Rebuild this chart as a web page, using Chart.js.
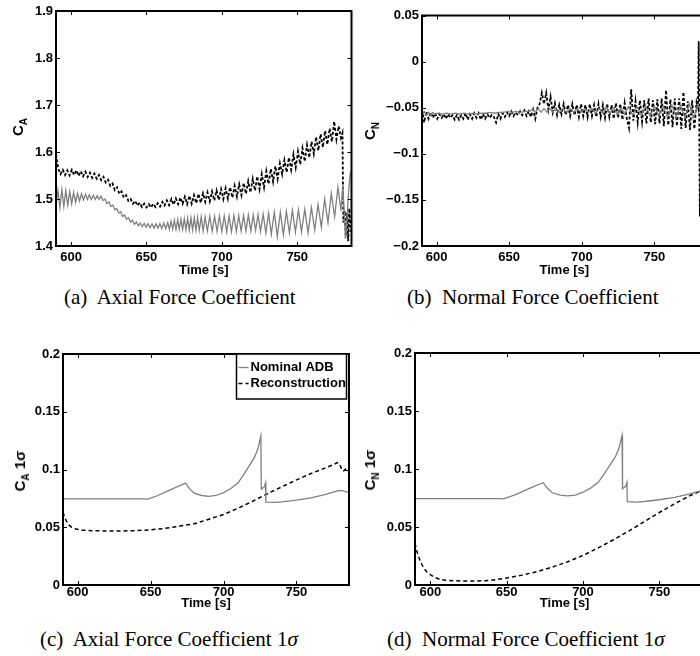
<!DOCTYPE html>
<html>
<head>
<meta charset="utf-8">
<script src="https://cdn.jsdelivr.net/npm/chart.js@4.4.1/dist/chart.umd.min.js"></script>
<style>
  html, body { margin: 0; padding: 0; background: #fff; }
  body { width: 700px; height: 656px; overflow: hidden; position: relative; }
  canvas { position: absolute; }
  .cap { position: absolute; font-family: "Liberation Serif", "Times New Roman", serif; font-size: 21px; line-height: 24px; white-space: nowrap; color: #000; }
  .ylab { position: absolute; font-family: "Liberation Sans", Arial, sans-serif; font-weight: bold; font-size: 15px; white-space: nowrap; transform: translate(-50%, -50%) rotate(-90deg); }
  .ylab sub { font-size: 10px; }
</style>
</head>
<body>
<canvas id="chartA" width="354" height="282" style="left:0;top:0"></canvas>
<canvas id="chartB" width="380" height="282" style="left:354px;top:0"></canvas>
<canvas id="chartC" width="354" height="282" style="left:0;top:330px"></canvas>
<canvas id="chartD" width="380" height="282" style="left:354px;top:330px"></canvas>

<div class="ylab" style="left:19px;top:127px">C<sub>A</sub></div>
<div class="ylab" style="left:371px;top:131px">C<sub>N</sub></div>
<div class="ylab" style="left:21px;top:471px">C<sub>A</sub> 1σ</div>
<div class="ylab" style="left:371px;top:470px">C<sub>N</sub> 1σ</div>

<div class="cap" style="left:64px;top:285px">(a)&nbsp; Axial Force Coefficient</div>
<div class="cap" style="left:407px;top:285px">(b)&nbsp; Normal Force Coefficient</div>
<div class="cap" style="left:40px;top:627px">(c)&nbsp; Axial Force Coefficient 1<i>σ</i></div>
<div class="cap" style="left:387px;top:627px">(d)&nbsp; Normal Force Coefficient 1<i>σ</i></div>

<script>
// ---- data ----
const timeTicks = [600, 650, 700, 750];

const yTicksCA = [1.4, 1.5, 1.6, 1.7, 1.8, 1.9];
const yLabelsCA = ['1.4', '1.5', '1.6', '1.7', '1.8', '1.9'];
const yTicksCN = [-0.2, -0.15, -0.1, -0.05, 0, 0.05];
const yLabelsCN = ['\u22120.2', '\u22120.15', '\u22120.1', '\u22120.05', '0', '0.05'];
const yTicksSig = [0, 0.05, 0.1, 0.15, 0.2];
const yLabelsSig = ['0', '0.05', '0.1', '0.15', '0.2'];

// shared time base of the noisy reconstruction traces
const tNoise = [
  590, 591.5, 593, 594.5, 596, 597.5, 599, 600.5, 602, 603.5,
  605, 606.5, 608, 609.5, 611, 612.5, 614, 615.5, 617, 618.5,
  620, 621.5, 623, 624.5, 626, 627.5, 629, 630.5, 632, 633.5,
  635, 636.5, 638, 639.5, 641, 642.5, 644, 645.5, 647, 648.5,
  650, 651.5, 653, 654.5, 656, 657.5, 659, 660.5, 662, 663.5,
  665, 666.5, 668, 669.5, 671, 672.5, 674, 675.5, 677, 678.5,
  680, 681.5, 683, 684.5, 686, 687.5, 689, 690.5, 692, 693.5,
  695, 696.5, 698, 699.5, 701, 702.5, 704, 705.5, 707, 708.5,
  710, 711.5, 713, 714.5, 716, 717.5, 719, 720.5, 722, 723.5,
  725, 726.5, 728, 729.5, 731, 732.5, 734, 735.5, 737, 738.5,
  740, 741.5, 743, 744.5, 746, 747.5, 749, 750.5, 752, 753.5,
  755, 756.5, 758, 759.5, 761, 762.5, 764, 765.5, 767, 768.5,
  770, 771.5, 773, 774.5, 776, 777.5, 779
];

// (a) axial force coefficient, reconstruction
const reconCA = [
  1.595, 1.565, 1.553, 1.562, 1.551, 1.561, 1.550, 1.562, 1.551, 1.561,
  1.549, 1.559, 1.548, 1.558, 1.547, 1.556, 1.545, 1.554, 1.543, 1.551,
  1.540, 1.547, 1.535, 1.541, 1.528, 1.533, 1.519, 1.525, 1.511, 1.516,
  1.503, 1.508, 1.496, 1.500, 1.490, 1.496, 1.486, 1.492, 1.483, 1.490,
  1.482, 1.489, 1.482, 1.490, 1.483, 1.491, 1.484, 1.494, 1.486, 1.497,
  1.487, 1.500, 1.488, 1.501, 1.489, 1.503, 1.490, 1.505, 1.489, 1.507,
  1.490, 1.508, 1.491, 1.511, 1.492, 1.512, 1.494, 1.514, 1.495, 1.516,
  1.497, 1.518, 1.498, 1.521, 1.500, 1.523, 1.501, 1.525, 1.503, 1.528,
  1.505, 1.531, 1.508, 1.534, 1.511, 1.538, 1.514, 1.543, 1.518, 1.548,
  1.521, 1.553, 1.525, 1.559, 1.532, 1.564, 1.537, 1.570, 1.543, 1.576,
  1.553, 1.583, 1.557, 1.588, 1.562, 1.595, 1.567, 1.601, 1.574, 1.608,
  1.580, 1.615, 1.588, 1.622, 1.596, 1.632, 1.603, 1.638, 1.610, 1.645,
  1.616, 1.650, 1.622, 1.665, 1.627, 1.655, 1.630
];
const reconCAEndT = [780, 780.6, 781.5, 782.2, 783, 783.8, 784.5, 785.5];
const reconCAEnd = [1.640, 1.450, 1.475, 1.420, 1.470, 1.410, 1.480, 1.430];

// (a) axial force coefficient, nominal ADB
const nominalCAT = [
  590, 591.3, 592.6, 593.9, 595.2, 596.5, 597.8, 599.1, 600.4, 601.7,
  603.0, 604.3, 605.6, 606.9, 608.2, 609.5, 610.8, 612.1, 613.4, 614.7,
  616.0, 617.3, 618.6, 619.9, 621.2, 622.5, 623.8, 625.1, 626.4, 627.7,
  629.0, 630.3, 631.6, 632.9, 634.2, 635.5, 636.8, 638.1, 639.4, 640.7,
  642.0, 643.3, 644.6, 645.9, 647.2, 648.5, 649.8, 651.1, 652.4, 653.7,
  655.0, 656.3, 657.6, 658.9, 660.2, 661.5, 662.8, 664.1, 665.2, 666.3,
  667.4, 668.5, 669.6, 670.7, 671.8, 672.9, 674.0, 675.1, 676.2, 677.3,
  678.4, 679.5, 680.6, 681.7, 682.8, 683.9, 685.0, 686.3, 687.6, 688.9,
  690.4, 692.0, 693.6, 695.2, 696.8, 698.4, 700.0, 701.6, 703.2, 704.8,
  706.4, 708.0, 709.6, 711.2, 712.8, 714.4, 716.0, 717.6, 719.2, 720.8,
  722.4, 724.0, 725.6, 727.4, 729.2, 731.0, 732.8, 734.8, 736.8, 738.8,
  740.8, 742.8, 744.8, 746.8, 748.8, 750.8, 752.8, 755.0, 757.2, 759.4,
  761.6, 763.8, 766.0, 768.2, 770.4, 772.6, 774.8, 777.0, 779.0, 780.2,
  781.2, 782.0, 783.2, 784.2, 785.2, 786
];
const nominalCA = [
  1.485, 1.518, 1.482, 1.520, 1.484, 1.518, 1.487, 1.516, 1.490, 1.514,
  1.493, 1.512, 1.496, 1.511, 1.498, 1.510, 1.499, 1.509, 1.499, 1.508,
  1.499, 1.507, 1.499, 1.506, 1.497, 1.500, 1.490, 1.494, 1.484, 1.487,
  1.477, 1.480, 1.470, 1.473, 1.463, 1.466, 1.457, 1.460, 1.451, 1.455,
  1.446, 1.451, 1.443, 1.449, 1.441, 1.448, 1.440, 1.447, 1.439, 1.447,
  1.438, 1.447, 1.438, 1.448, 1.437, 1.449, 1.437, 1.450, 1.436, 1.453,
  1.436, 1.455, 1.435, 1.456, 1.435, 1.457, 1.435, 1.458, 1.434, 1.459,
  1.434, 1.460, 1.434, 1.460, 1.433, 1.461, 1.433, 1.462, 1.432, 1.462,
  1.432, 1.463, 1.431, 1.463, 1.431, 1.464, 1.431, 1.464, 1.430, 1.464,
  1.431, 1.465, 1.431, 1.465, 1.432, 1.465, 1.432, 1.466, 1.432, 1.466,
  1.433, 1.467, 1.431, 1.468, 1.428, 1.470, 1.425, 1.472, 1.420, 1.472,
  1.424, 1.474, 1.428, 1.476, 1.430, 1.477, 1.430, 1.478, 1.428, 1.482,
  1.434, 1.488, 1.440, 1.500, 1.450, 1.512, 1.462, 1.525, 1.475, 1.532,
  1.470, 1.415, 1.470, 1.520, 1.555, 1.560
];

// (b) normal force coefficient, reconstruction
const reconCN = [
  -0.052, -0.066, -0.054, -0.062, -0.055, -0.061, -0.056, -0.062, -0.057, -0.061,
  -0.057, -0.062, -0.057, -0.061, -0.058, -0.063, -0.058, -0.063, -0.058, -0.062,
  -0.056, -0.063, -0.057, -0.062, -0.056, -0.061, -0.056, -0.063, -0.057, -0.062,
  -0.057, -0.061, -0.058, -0.060, -0.066, -0.057, -0.062, -0.056, -0.060, -0.055,
  -0.059, -0.054, -0.059, -0.055, -0.058, -0.054, -0.058, -0.053, -0.059, -0.054,
  -0.060, -0.052, -0.062, -0.050, -0.046, -0.034, -0.046, -0.034, -0.052, -0.038,
  -0.055, -0.045, -0.058, -0.047, -0.057, -0.046, -0.058, -0.047, -0.059, -0.046,
  -0.058, -0.047, -0.060, -0.046, -0.059, -0.047, -0.060, -0.046, -0.059, -0.047,
  -0.060, -0.046, -0.060, -0.047, -0.061, -0.046, -0.060, -0.047, -0.062, -0.045,
  -0.061, -0.046, -0.063, -0.045, -0.062, -0.072, -0.030, -0.064, -0.043, -0.066,
  -0.042, -0.065, -0.042, -0.067, -0.040, -0.066, -0.042, -0.068, -0.041, -0.067,
  -0.040, -0.070, -0.031, -0.069, -0.041, -0.071, -0.040, -0.070, -0.040, -0.073,
  -0.033, -0.072, -0.043, -0.074, -0.042, -0.073, -0.044
];
const reconCNEndT = [780, 780.5, 781.3, 782.5, 784, 785.5];
const reconCNEnd = [-0.050, 0.022, -0.168, -0.055, -0.062, -0.048];

// (b) normal force coefficient, nominal ADB
const nominalCNT = [
  590, 591.5, 593, 594.5, 596, 597.5, 599, 601, 604, 607,
  610, 613, 616, 619, 622, 625, 628, 631, 634, 637,
  640, 643, 646, 649, 652, 655, 658, 661, 664, 666,
  668, 670, 672, 674, 676, 678, 680, 682, 684.5, 687,
  689.5, 692, 694.5, 697, 699.5, 702, 704.5, 707, 709.5, 712,
  714.5, 717, 719.5, 722, 724.5, 727, 729.5, 732, 735, 738,
  741, 744, 747, 750, 753, 756, 759, 762, 765, 768,
  771, 774, 777, 780, 783, 786
];
const nominalCN = [
  -0.059, -0.054, -0.058, -0.055, -0.058, -0.055, -0.057, -0.056, -0.057, -0.056,
  -0.057, -0.056, -0.057, -0.056, -0.057, -0.056, -0.057, -0.056, -0.056, -0.055,
  -0.056, -0.055, -0.055, -0.054, -0.055, -0.054, -0.055, -0.054, -0.054, -0.052,
  -0.055, -0.051, -0.055, -0.051, -0.055, -0.051, -0.055, -0.051, -0.055, -0.051,
  -0.055, -0.051, -0.055, -0.051, -0.055, -0.051, -0.055, -0.051, -0.056, -0.051,
  -0.056, -0.050, -0.056, -0.050, -0.057, -0.050, -0.057, -0.049, -0.058, -0.049,
  -0.058, -0.048, -0.059, -0.048, -0.059, -0.048, -0.060, -0.047, -0.060, -0.047,
  -0.061, -0.046, -0.061, -0.046, -0.060, -0.050
];

// (c)/(d) nominal ADB 1-sigma uncertainty (same for both)
const nominalSigT = [
  590, 645, 648, 655, 662, 668, 674, 677, 680, 685,
  690, 695, 700, 705, 710, 714, 718, 721, 723, 724,
  725.6, 725.9, 728.0, 728.8, 729.0, 735, 740, 750, 760, 770,
  778, 781, 786
];
const nominalSig = [
  0.0745, 0.0745, 0.0743, 0.0775, 0.0815, 0.0850, 0.0882, 0.0830, 0.0795, 0.0775,
  0.0768, 0.0775, 0.0800, 0.0835, 0.0885, 0.0960, 0.1040, 0.1100, 0.1160, 0.1200,
  0.1290, 0.0830, 0.0850, 0.0885, 0.0718, 0.0715, 0.0720, 0.0735, 0.0755, 0.0785,
  0.0815, 0.0820, 0.0800
];

// (c) reconstruction 1-sigma, axial
const reconSigCAT = [
  590, 591, 592.5, 594, 596, 599, 603, 610, 620, 630,
  640, 650, 660, 670, 680, 690, 700, 710, 720, 730,
  740, 750, 760, 770, 775, 778, 779.5, 781, 782, 783,
  784
];
const reconSigCA = [
  0.0630, 0.0590, 0.0550, 0.0520, 0.0500, 0.0485, 0.0475, 0.0470, 0.0468, 0.0468,
  0.0470, 0.0478, 0.0490, 0.0510, 0.0530, 0.0570, 0.0610, 0.0665, 0.0725, 0.0790,
  0.0850, 0.0910, 0.0965, 0.1015, 0.1040, 0.1060, 0.1050, 0.1000, 0.0985, 0.0995,
  0.1010
];

// (d) reconstruction 1-sigma, normal
const reconSigCNT = [
  590, 591, 592.5, 594, 596, 598, 600, 603, 606, 610,
  620, 630, 640, 650, 660, 670, 680, 690, 700, 710,
  720, 730, 740, 750, 760, 770, 777, 779, 779.3, 781
];
const reconSigCN = [
  0.0360, 0.0300, 0.0240, 0.0190, 0.0140, 0.0110, 0.0090, 0.0065, 0.0050, 0.0040,
  0.0035, 0.0035, 0.0040, 0.0060, 0.0085, 0.0115, 0.0155, 0.0200, 0.0255, 0.0320,
  0.0390, 0.0465, 0.0545, 0.0625, 0.0700, 0.0770, 0.0810, 0.0820, 0.0730, 0.0715
];

// ---- drawing ----
Chart.defaults.font.family = '"Liberation Sans", Arial, sans-serif';
const tickFont = { size: 13, weight: 'bold' };
const GRAY = '#808080';

const xy = (ts, vs) => ts.map((t, i) => ({ x: t, y: vs[i] }));

// MATLAB-style boxed axes with inward ticks on all four sides
const axesBox = {
  id: 'axesBox',
  afterDraw(chart) {
    const { ctx, chartArea: a, scales } = chart;
    ctx.save();
    ctx.strokeStyle = '#000';
    ctx.lineWidth = 1;
    ctx.beginPath();
    scales.x.ticks.forEach(t => {
      const px = Math.round(scales.x.getPixelForValue(t.value)) + 0.5;
      ctx.moveTo(px, a.bottom); ctx.lineTo(px, a.bottom - 4);
      ctx.moveTo(px, a.top); ctx.lineTo(px, a.top + 4);
    });
    scales.y.ticks.forEach(t => {
      const py = Math.round(scales.y.getPixelForValue(t.value)) + 0.5;
      ctx.moveTo(a.left, py); ctx.lineTo(a.left + 4, py);
      ctx.moveTo(a.right, py); ctx.lineTo(a.right - 4, py);
    });
    ctx.stroke();
    ctx.lineWidth = 2;
    ctx.strokeRect(a.left, a.top, a.right - a.left, a.bottom - a.top);
    ctx.restore();
  }
};

// boxed legend inside the axes, built from the datasets
const insetLegend = {
  id: 'insetLegend',
  afterDraw(chart, args, opts) {
    if (!opts || !opts.show) return;
    const { ctx } = chart;
    ctx.save();
    ctx.fillStyle = '#fff';
    ctx.fillRect(opts.x, opts.y, opts.w, opts.h);
    ctx.strokeStyle = '#000';
    ctx.lineWidth = 1.5;
    ctx.strokeRect(opts.x, opts.y, opts.w, opts.h);
    ctx.font = 'bold 13px "Liberation Sans", Arial, sans-serif';
    ctx.textBaseline = 'middle';
    chart.data.datasets.forEach((ds, i) => {
      const y = opts.y + opts.row0 + i * opts.rowGap;
      ctx.strokeStyle = ds.borderColor;
      ctx.lineWidth = ds.borderWidth;
      ctx.setLineDash(ds.borderDash || []);
      ctx.beginPath();
      ctx.moveTo(opts.x + 2, y);
      ctx.lineTo(opts.x + 12, y);
      ctx.stroke();
      ctx.setLineDash([]);
      ctx.fillStyle = '#000';
      ctx.fillText(ds.label, opts.x + 14, y);
    });
    ctx.restore();
  }
};

function makeChart(id, datasets, s) {
  const cv = document.getElementById(id);
  const W = cv.width, H = cv.height;
  return new Chart(cv, {
    type: 'line',
    data: { datasets },
    options: {
      responsive: false,
      animation: false,
      devicePixelRatio: 1,
      layout: { padding: { top: s.area.top, right: W - s.area.right, left: 0, bottom: 0 } },
      elements: { point: { radius: 0 }, line: { tension: 0 } },
      plugins: {
        legend: { display: false },
        tooltip: { enabled: false },
        insetLegend: s.legend || { show: false }
      },
      scales: {
        x: {
          type: 'linear', min: 590, max: 786,
          afterBuildTicks: sc => { sc.ticks = timeTicks.map(v => ({ value: v })); },
          afterFit: sc => { sc.height = H - s.area.bottom; },
          grid: { display: false, drawTicks: false },
          border: { display: false },
          ticks: { color: '#000', font: tickFont, padding: s.xPad, maxRotation: 0, callback: v => String(v) },
          title: { display: true, text: 'Time [s]', color: '#000', font: tickFont, padding: { top: 0, bottom: s.titlePad } }
        },
        y: {
          type: 'linear', min: s.yTicks[0], max: s.yTicks[s.yTicks.length - 1],
          afterBuildTicks: sc => { sc.ticks = s.yTicks.map(v => ({ value: v })); },
          afterFit: sc => { sc.width = s.area.left; },
          grid: { display: false, drawTicks: false },
          border: { display: false },
          ticks: { color: '#000', font: tickFont, padding: 3, callback: (v, i) => s.yLabels[i] }
        }
      }
    },
    plugins: [axesBox, insetLegend]
  });
}

const nomStyle = { borderColor: GRAY, borderWidth: 1.3, fill: false };
const recStyle = { borderColor: '#000', borderWidth: 1.5, borderDash: [4, 3], fill: false };
const noisyStyle = { ...recStyle, borderWidth: 1.8, borderDash: [3, 2] };

makeChart('chartA', [
  { label: 'Nominal ADB', data: xy(nominalCAT, nominalCA), ...nomStyle },
  { label: 'Reconstruction', data: xy(tNoise.concat(reconCAEndT), reconCA.concat(reconCAEnd)), ...noisyStyle }
], { area: { left: 56, top: 11, right: 351.5, bottom: 246 }, yTicks: yTicksCA, yLabels: yLabelsCA, xPad: 4, titlePad: 4 });

makeChart('chartB', [
  { label: 'Nominal ADB', data: xy(nominalCNT, nominalCN), ...nomStyle },
  { label: 'Reconstruction', data: xy(tNoise.concat(reconCNEndT), reconCN.concat(reconCNEnd)), ...noisyStyle }
], { area: { left: 68, top: 15.5, right: 352.7, bottom: 246 }, yTicks: yTicksCN, yLabels: yLabelsCN, xPad: 4, titlePad: 4 });

makeChart('chartC', [
  { label: 'Nominal ADB', data: xy(nominalSigT, nominalSig), ...nomStyle },
  { label: 'Reconstruction', data: xy(reconSigCAT, reconSigCA), ...recStyle }
], { area: { left: 63, top: 24, right: 349, bottom: 255 }, yTicks: yTicksSig, yLabels: yLabelsSig, xPad: 0, titlePad: 1,
     legend: { show: true, x: 236.5, y: 24, w: 110, h: 45, row0: 13.5, rowGap: 16 } });

makeChart('chartD', [
  { label: 'Nominal ADB', data: xy(nominalSigT, nominalSig), ...nomStyle },
  { label: 'Reconstruction', data: xy(reconSigCNT, reconSigCN), ...recStyle }
], { area: { left: 61, top: 23, right: 360.3, bottom: 255 }, yTicks: yTicksSig, yLabels: yLabelsSig, xPad: 0, titlePad: 1 });
</script>
</body>
</html>
